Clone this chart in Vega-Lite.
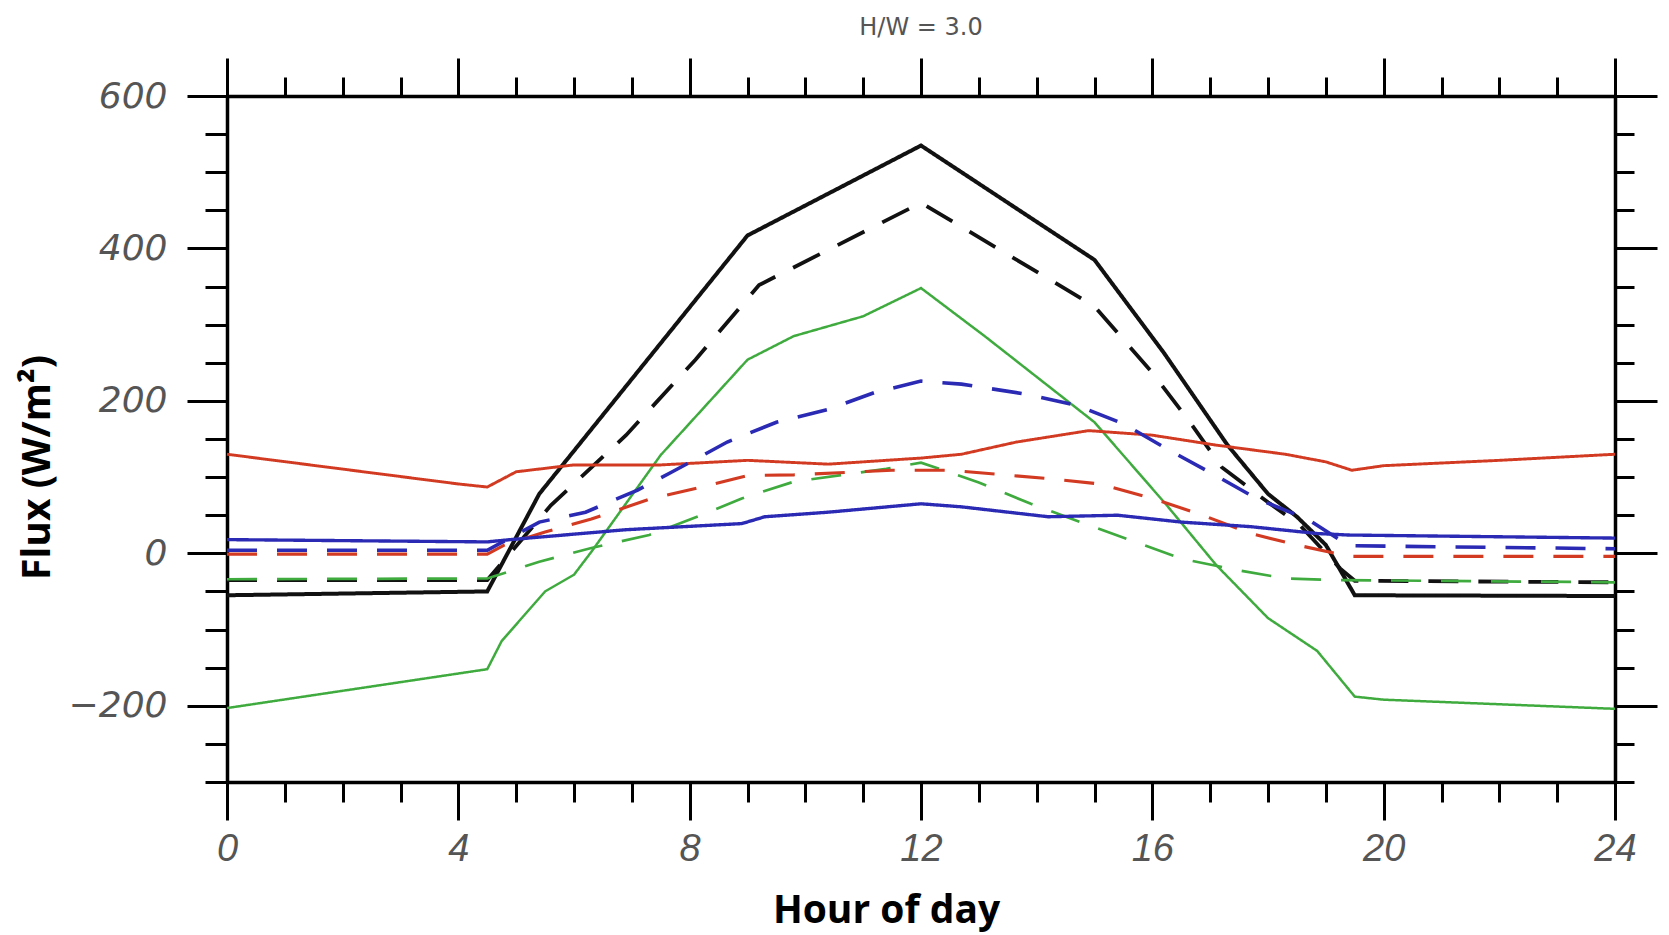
{
  "$schema": "https://vega.github.io/schema/vega-lite/v6.json",
  "width": 1388,
  "height": 686,
  "autosize": "none",
  "padding": {"left": 227, "top": 96, "right": 54, "bottom": 153},
  "background": "white",
  "title": {"text": "H/W = 3.0", "fontSize": 24, "font": "DejaVu Sans", "color": "#555555", "fontWeight": "normal", "offset": 17, "anchor": "middle"},
  "config": {"view": {"stroke": null}, "axis": {"grid": false, "domainColor": "black", "domainWidth": 3.5, "tickColor": "black", "tickWidth": 3, "labelFlush": false, "labelOverlap": false}},
  "data": {"values": [
    {"line": "black solid", "h": 0, "v": -55}, {"line": "black solid", "h": 4.5, "v": -50}, {"line": "black solid", "h": 5.4, "v": 78}, {"line": "black solid", "h": 9, "v": 417}, {"line": "black solid", "h": 12, "v": 535}, {"line": "black solid", "h": 15, "v": 385}, {"line": "black solid", "h": 16.2, "v": 263}, {"line": "black solid", "h": 17.3, "v": 142}, {"line": "black solid", "h": 18, "v": 78}, {"line": "black solid", "h": 18.5, "v": 48}, {"line": "black solid", "h": 19, "v": 11}, {"line": "black solid", "h": 19.5, "v": -55}, {"line": "black solid", "h": 24, "v": -56},
    {"line": "black dashed", "h": 0, "v": -35}, {"line": "black dashed", "h": 4.5, "v": -35}, {"line": "black dashed", "h": 5.6, "v": 63}, {"line": "black dashed", "h": 6.9, "v": 155}, {"line": "black dashed", "h": 8.1, "v": 254}, {"line": "black dashed", "h": 9.2, "v": 352}, {"line": "black dashed", "h": 12, "v": 460}, {"line": "black dashed", "h": 15, "v": 324}, {"line": "black dashed", "h": 16, "v": 237}, {"line": "black dashed", "h": 16.65, "v": 172}, {"line": "black dashed", "h": 17.2, "v": 113}, {"line": "black dashed", "h": 18, "v": 67}, {"line": "black dashed", "h": 18.55, "v": 37}, {"line": "black dashed", "h": 19.25, "v": -20}, {"line": "black dashed", "h": 19.5, "v": -36}, {"line": "black dashed", "h": 24, "v": -38},
    {"line": "green solid", "h": 0, "v": -203}, {"line": "green solid", "h": 4.5, "v": -152}, {"line": "green solid", "h": 4.75, "v": -115}, {"line": "green solid", "h": 5.5, "v": -50}, {"line": "green solid", "h": 6, "v": -28}, {"line": "green solid", "h": 6.3, "v": 2}, {"line": "green solid", "h": 7.5, "v": 129}, {"line": "green solid", "h": 9, "v": 254}, {"line": "green solid", "h": 9.8, "v": 285}, {"line": "green solid", "h": 11, "v": 311}, {"line": "green solid", "h": 12, "v": 348}, {"line": "green solid", "h": 13.1, "v": 285}, {"line": "green solid", "h": 15, "v": 172}, {"line": "green solid", "h": 16.25, "v": 63}, {"line": "green solid", "h": 17.1, "v": -15}, {"line": "green solid", "h": 18, "v": -85}, {"line": "green solid", "h": 18.85, "v": -128}, {"line": "green solid", "h": 19.5, "v": -188}, {"line": "green solid", "h": 20, "v": -192}, {"line": "green solid", "h": 24, "v": -204},
    {"line": "green dashed", "h": 0, "v": -34}, {"line": "green dashed", "h": 4.5, "v": -33}, {"line": "green dashed", "h": 5.4, "v": -11}, {"line": "green dashed", "h": 6.3, "v": 7}, {"line": "green dashed", "h": 7.3, "v": 24}, {"line": "green dashed", "h": 8.2, "v": 50}, {"line": "green dashed", "h": 8.9, "v": 72}, {"line": "green dashed", "h": 9.8, "v": 94}, {"line": "green dashed", "h": 11.4, "v": 111}, {"line": "green dashed", "h": 12, "v": 119}, {"line": "green dashed", "h": 13, "v": 93}, {"line": "green dashed", "h": 13.9, "v": 65}, {"line": "green dashed", "h": 14.9, "v": 37}, {"line": "green dashed", "h": 15.7, "v": 15}, {"line": "green dashed", "h": 16.5, "v": -7}, {"line": "green dashed", "h": 17.4, "v": -21}, {"line": "green dashed", "h": 18.3, "v": -33}, {"line": "green dashed", "h": 19.1, "v": -35}, {"line": "green dashed", "h": 24, "v": -38},
    {"line": "red solid", "h": 0, "v": 130}, {"line": "red solid", "h": 4, "v": 91}, {"line": "red solid", "h": 4.5, "v": 87}, {"line": "red solid", "h": 5, "v": 107}, {"line": "red solid", "h": 6, "v": 116}, {"line": "red solid", "h": 7.5, "v": 116}, {"line": "red solid", "h": 9, "v": 122}, {"line": "red solid", "h": 10.4, "v": 117}, {"line": "red solid", "h": 12, "v": 125}, {"line": "red solid", "h": 12.7, "v": 130}, {"line": "red solid", "h": 13.65, "v": 146}, {"line": "red solid", "h": 14.9, "v": 161}, {"line": "red solid", "h": 16, "v": 155}, {"line": "red solid", "h": 17.1, "v": 142}, {"line": "red solid", "h": 18.3, "v": 130}, {"line": "red solid", "h": 19, "v": 120}, {"line": "red solid", "h": 19.45, "v": 109}, {"line": "red solid", "h": 20, "v": 115}, {"line": "red solid", "h": 22, "v": 122}, {"line": "red solid", "h": 24, "v": 130},
    {"line": "red dashed", "h": 0, "v": -1}, {"line": "red dashed", "h": 4.5, "v": -1}, {"line": "red dashed", "h": 4.8, "v": 11}, {"line": "red dashed", "h": 5.5, "v": 28}, {"line": "red dashed", "h": 6.3, "v": 45}, {"line": "red dashed", "h": 7.3, "v": 71}, {"line": "red dashed", "h": 8.1, "v": 85}, {"line": "red dashed", "h": 9, "v": 102}, {"line": "red dashed", "h": 9.8, "v": 103}, {"line": "red dashed", "h": 11.5, "v": 109}, {"line": "red dashed", "h": 12.5, "v": 109}, {"line": "red dashed", "h": 14.2, "v": 98}, {"line": "red dashed", "h": 15.1, "v": 91}, {"line": "red dashed", "h": 16, "v": 72}, {"line": "red dashed", "h": 16.8, "v": 52}, {"line": "red dashed", "h": 17.7, "v": 26}, {"line": "red dashed", "h": 18.5, "v": 11}, {"line": "red dashed", "h": 19.4, "v": -4}, {"line": "red dashed", "h": 24, "v": -4},
    {"line": "blue solid", "h": 0, "v": 18}, {"line": "blue solid", "h": 4.5, "v": 15}, {"line": "blue solid", "h": 4.9, "v": 18}, {"line": "blue solid", "h": 6.9, "v": 31}, {"line": "blue solid", "h": 8.9, "v": 39}, {"line": "blue solid", "h": 9.3, "v": 48}, {"line": "blue solid", "h": 10.4, "v": 54}, {"line": "blue solid", "h": 12, "v": 65}, {"line": "blue solid", "h": 12.7, "v": 61}, {"line": "blue solid", "h": 14.2, "v": 48}, {"line": "blue solid", "h": 15.4, "v": 50}, {"line": "blue solid", "h": 16.5, "v": 41}, {"line": "blue solid", "h": 17.7, "v": 35}, {"line": "blue solid", "h": 18.85, "v": 26}, {"line": "blue solid", "h": 19.4, "v": 24}, {"line": "blue solid", "h": 24, "v": 20},
    {"line": "blue dashed", "h": 0, "v": 4}, {"line": "blue dashed", "h": 4.5, "v": 4}, {"line": "blue dashed", "h": 5.4, "v": 41}, {"line": "blue dashed", "h": 6.2, "v": 54}, {"line": "blue dashed", "h": 7.1, "v": 83}, {"line": "blue dashed", "h": 7.7, "v": 107}, {"line": "blue dashed", "h": 8.65, "v": 146}, {"line": "blue dashed", "h": 9.5, "v": 172}, {"line": "blue dashed", "h": 10.4, "v": 189}, {"line": "blue dashed", "h": 11.2, "v": 211}, {"line": "blue dashed", "h": 12, "v": 226}, {"line": "blue dashed", "h": 12.7, "v": 222}, {"line": "blue dashed", "h": 13.8, "v": 209}, {"line": "blue dashed", "h": 14.7, "v": 194}, {"line": "blue dashed", "h": 15.5, "v": 170}, {"line": "blue dashed", "h": 16.3, "v": 135}, {"line": "blue dashed", "h": 17.05, "v": 104}, {"line": "blue dashed", "h": 17.8, "v": 72}, {"line": "blue dashed", "h": 18.7, "v": 44}, {"line": "blue dashed", "h": 19.4, "v": 10}, {"line": "blue dashed", "h": 24, "v": 6}
  ]},
  "layer": [
    {
      "mark": {"type": "line", "strokeCap": "butt"},
      "encoding": {
        "x": {"field": "h", "type": "quantitative", "scale": {"domain": [0, 24], "nice": false, "zero": false},
          "axis": {"orient": "bottom", "values": [0, 4, 8, 12, 16, 20, 24], "tickSize": 38, "labelFont": "Liberation Sans", "labelFontStyle": "italic", "labelFontSize": 38, "labelColor": "#555555", "labelPadding": 10,
            "title": "Hour of day", "titleFont": "Open Sans", "titleFontWeight": "bold", "titleFontSize": 39, "titleColor": "black", "titleX": 659, "titleY": 140, "titleAlign": "center", "titleBaseline": "alphabetic"}},
        "y": {"field": "v", "type": "quantitative", "scale": {"domain": [-300, 600], "nice": false, "zero": false},
          "axis": {"orient": "left", "values": [-200, 0, 200, 400, 600], "tickSize": 40, "labelFont": "DejaVu Sans", "labelFontStyle": "italic", "labelFontSize": 36, "labelColor": "#555555", "labelPadding": 20,
            "title": "Flux (W/m²)", "titleFont": "Open Sans", "titleFontWeight": "bold", "titleFontSize": 39, "titleColor": "black", "titleAngle": -90, "titleX": -178, "titleY": 371, "titleAlign": "center", "titleBaseline": "alphabetic"}},
        "color": {"field": "line", "type": "nominal", "legend": null,
          "scale": {"domain": ["green solid", "green dashed", "red solid", "red dashed", "blue solid", "blue dashed", "black dashed", "black solid"],
            "range": ["#3fab3f", "#3fab3f", "#d23a22", "#d23a22", "#2a2ab4", "#2a2ab4", "#111111", "#111111"]}},
        "strokeDash": {"field": "line", "type": "nominal", "legend": null,
          "scale": {"domain": ["green solid", "green dashed", "red solid", "red dashed", "blue solid", "blue dashed", "black dashed", "black solid"],
            "range": [[1, 0], [30, 20], [1, 0], [30, 20], [1, 0], [30, 20], [30, 20], [1, 0]]}},
        "strokeWidth": {"field": "line", "type": "nominal", "legend": null,
          "scale": {"domain": ["green solid", "green dashed", "red solid", "red dashed", "blue solid", "blue dashed", "black dashed", "black solid"],
            "range": [2.5, 4, 3, 4, 3.5, 4.5, 4, 3.5]}}
      }
    },
    {
      "mark": {"type": "line", "opacity": 0},
      "encoding": {
        "x": {"field": "h", "type": "quantitative", "axis": {"orient": "bottom", "values": [0,1,2,3,4,5,6,7,8,9,10,11,12,13,14,15,16,17,18,19,20,21,22,23,24], "tickSize": 20, "labels": false, "title": null, "domain": false}},
        "y": {"field": "v", "type": "quantitative", "axis": {"orient": "left", "values": [-300,-250,-200,-150,-100,-50,0,50,100,150,200,250,300,350,400,450,500,550,600], "tickSize": 22, "labels": false, "title": null, "domain": false}},
        "detail": {"field": "line"}
      }
    },
    {
      "mark": {"type": "line", "opacity": 0},
      "encoding": {
        "x": {"field": "h", "type": "quantitative", "axis": {"orient": "top", "values": [0, 4, 8, 12, 16, 20, 24], "tickSize": 38, "labels": false, "title": null}},
        "y": {"field": "v", "type": "quantitative", "axis": {"orient": "right", "values": [-200, 0, 200, 400, 600], "tickSize": 42, "labels": false, "title": null}},
        "detail": {"field": "line"}
      }
    },
    {
      "mark": {"type": "line", "opacity": 0},
      "encoding": {
        "x": {"field": "h", "type": "quantitative", "axis": {"orient": "top", "values": [0,1,2,3,4,5,6,7,8,9,10,11,12,13,14,15,16,17,18,19,20,21,22,23,24], "tickSize": 19, "labels": false, "title": null, "domain": false}},
        "y": {"field": "v", "type": "quantitative", "axis": {"orient": "right", "values": [-300,-250,-200,-150,-100,-50,0,50,100,150,200,250,300,350,400,450,500,550,600], "tickSize": 19, "labels": false, "title": null, "domain": false}},
        "detail": {"field": "line"}
      }
    }
  ],
  "resolve": {"axis": {"x": "independent", "y": "independent"}}
}
